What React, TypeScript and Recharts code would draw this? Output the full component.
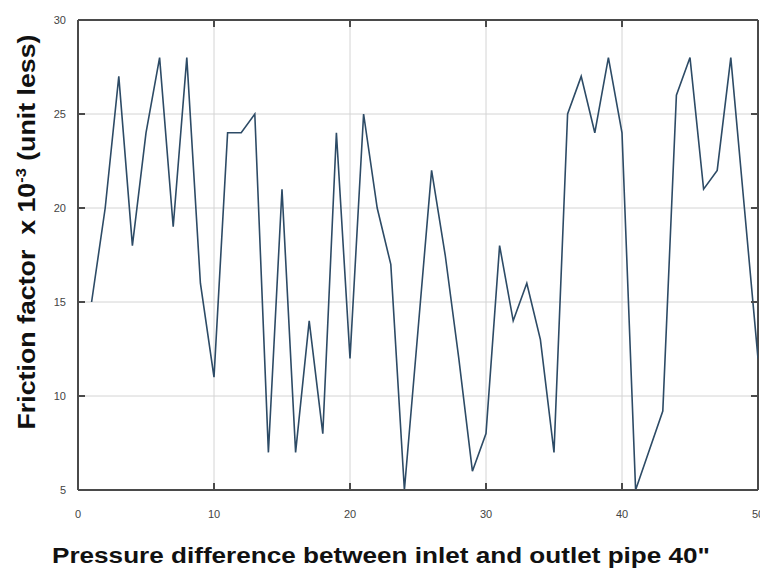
import { LineChart, Line, XAxis, YAxis, CartesianGrid, Label } from "recharts";

// friction factor (x 10^-3) read per run, runs 1..50
const runs = [
  1, 2, 3, 4, 5, 6, 7, 8, 9, 10, 11, 12, 13, 14, 15, 16, 17, 18, 19, 20, 21, 22, 23, 24, 25,
  26, 27, 28, 29, 30, 31, 32, 33, 34, 35, 36, 37, 38, 39, 40, 41, 42, 43, 44, 45, 46, 47, 48, 49, 50,
];
const friction = [
  15, 20, 27, 18, 24, 28, 19, 28, 16, 11, 24, 24, 25, 7, 21, 7, 14, 8, 24, 12, 25, 20, 17, 5, 13.5,
  22, 17.5, 12, 6, 8, 18, 14, 16, 13, 7, 25, 27, 24, 28, 24, 5, 7.1, 9.2, 26, 28, 21, 22, 28, 20, 12,
];
const xTicks = [0, 10, 20, 30, 40, 50];
const yTicks = [5, 10, 15, 20, 25, 30];
const xInner = [10, 20, 30, 40];
const yInner = [10, 15, 20, 25];

const data = runs.map((r, i) => ({ run: r, f: friction[i] }));

// plot box in pixels (follows from the margins / axis sizes below)
const W = 780, H = 569;
const M = { top: 20, right: 22, left: 28, bottom: 39 };
const AX_H = 40, AX_W = 50;
const PL = M.left + AX_W;
const PR = W - M.right;
const PT = M.top;
const PB = H - M.bottom - AX_H;
const TL = 7;

const frame = "#4a4a4a";
const font = "Liberation Sans, Arial, sans-serif";

const XTick = (props: any) => {
  const { x, y, payload } = props;
  const inner = payload.value > xTicks[0] && payload.value < xTicks[xTicks.length - 1];
  return (
    <g>
      {inner && <line x1={x} x2={x} y1={PB} y2={PB - TL} stroke={frame} strokeWidth={2} />}
      {inner && <line x1={x} x2={x} y1={PT} y2={PT + TL} stroke={frame} strokeWidth={2} />}
      <text x={x} y={y} dy="0.71em" textAnchor="middle" fontSize={11} fill="#444" fontFamily={font}>
        {payload.value}
      </text>
    </g>
  );
};

const YTick = (props: any) => {
  const { x, y, payload } = props;
  const inner = payload.value > yTicks[0];
  return (
    <g>
      {inner && <line x1={PL} x2={PL + TL} y1={y} y2={y} stroke={frame} strokeWidth={2} />}
      {inner && <line x1={PR} x2={PR - TL} y1={y} y2={y} stroke={frame} strokeWidth={2} />}
      <text x={x} y={y} dy="0.355em" textAnchor="end" fontSize={11} fill="#444" fontFamily={font}>
        {payload.value}
      </text>
    </g>
  );
};

const YLabel = () => (
  <text
    x={0}
    y={0}
    transform="translate(35, 232) rotate(-90)"
    textAnchor="middle"
    fontFamily={font}
    fontWeight="bold"
    fontSize={23}
    fill="#111"
    textLength={395}
    lengthAdjust="spacingAndGlyphs"
    style={{ whiteSpace: "pre" }}
  >
    {"Friction factor  x 10"}
    <tspan fontSize={14} dy={-9}>-3</tspan>
    <tspan dy={9}>{" (unit less)"}</tspan>
  </text>
);

const XLabel = () => (
  <text
    x={381}
    y={563}
    textAnchor="middle"
    fontFamily={font}
    fontWeight="bold"
    fontSize={22}
    fill="#111"
    textLength={658}
    lengthAdjust="spacingAndGlyphs"
  >
    Pressure difference between inlet and outlet pipe 40"
  </text>
);

const App = () => {
  return (
    <div style={{ position: "absolute", left: 0, top: 0, width: 760, height: 569, overflow: "hidden", background: "#fff" }}>
      <LineChart width={W} height={H} data={data} margin={M}>
        <CartesianGrid stroke="#d4d4d4" strokeWidth={1} xAxisId="bottom" yAxisId="left" verticalValues={xInner} horizontalValues={yInner} />
        {/* top and right edges of the box */}
        <CartesianGrid stroke={frame} strokeWidth={2} xAxisId="bottom" yAxisId="left" verticalValues={[xTicks[xTicks.length - 1]]} horizontalValues={[yTicks[yTicks.length - 1]]} />
        <XAxis
          xAxisId="bottom"
          dataKey="run"
          type="number"
          domain={[0, 50]}
          ticks={xTicks}
          allowDataOverflow
          height={AX_H}
          tickLine={false}
          axisLine={{ stroke: frame, strokeWidth: 2 }}
          tick={<XTick />}
          tickMargin={14}
        >
          <Label content={<XLabel />} />
        </XAxis>
        <YAxis
          yAxisId="left"
          type="number"
          domain={[5, 30]}
          ticks={yTicks}
          allowDataOverflow
          width={AX_W}
          tickLine={false}
          axisLine={{ stroke: frame, strokeWidth: 2 }}
          tick={<YTick />}
          tickMargin={6}
        >
          <Label content={<YLabel />} />
        </YAxis>
        <Line
          xAxisId="bottom"
          yAxisId="left"
          type="linear"
          dataKey="f"
          stroke="#2d4b66"
          strokeWidth={1.6}
          dot={false}
          isAnimationActive={false}
        />
      </LineChart>
    </div>
  );
};

export default App;
